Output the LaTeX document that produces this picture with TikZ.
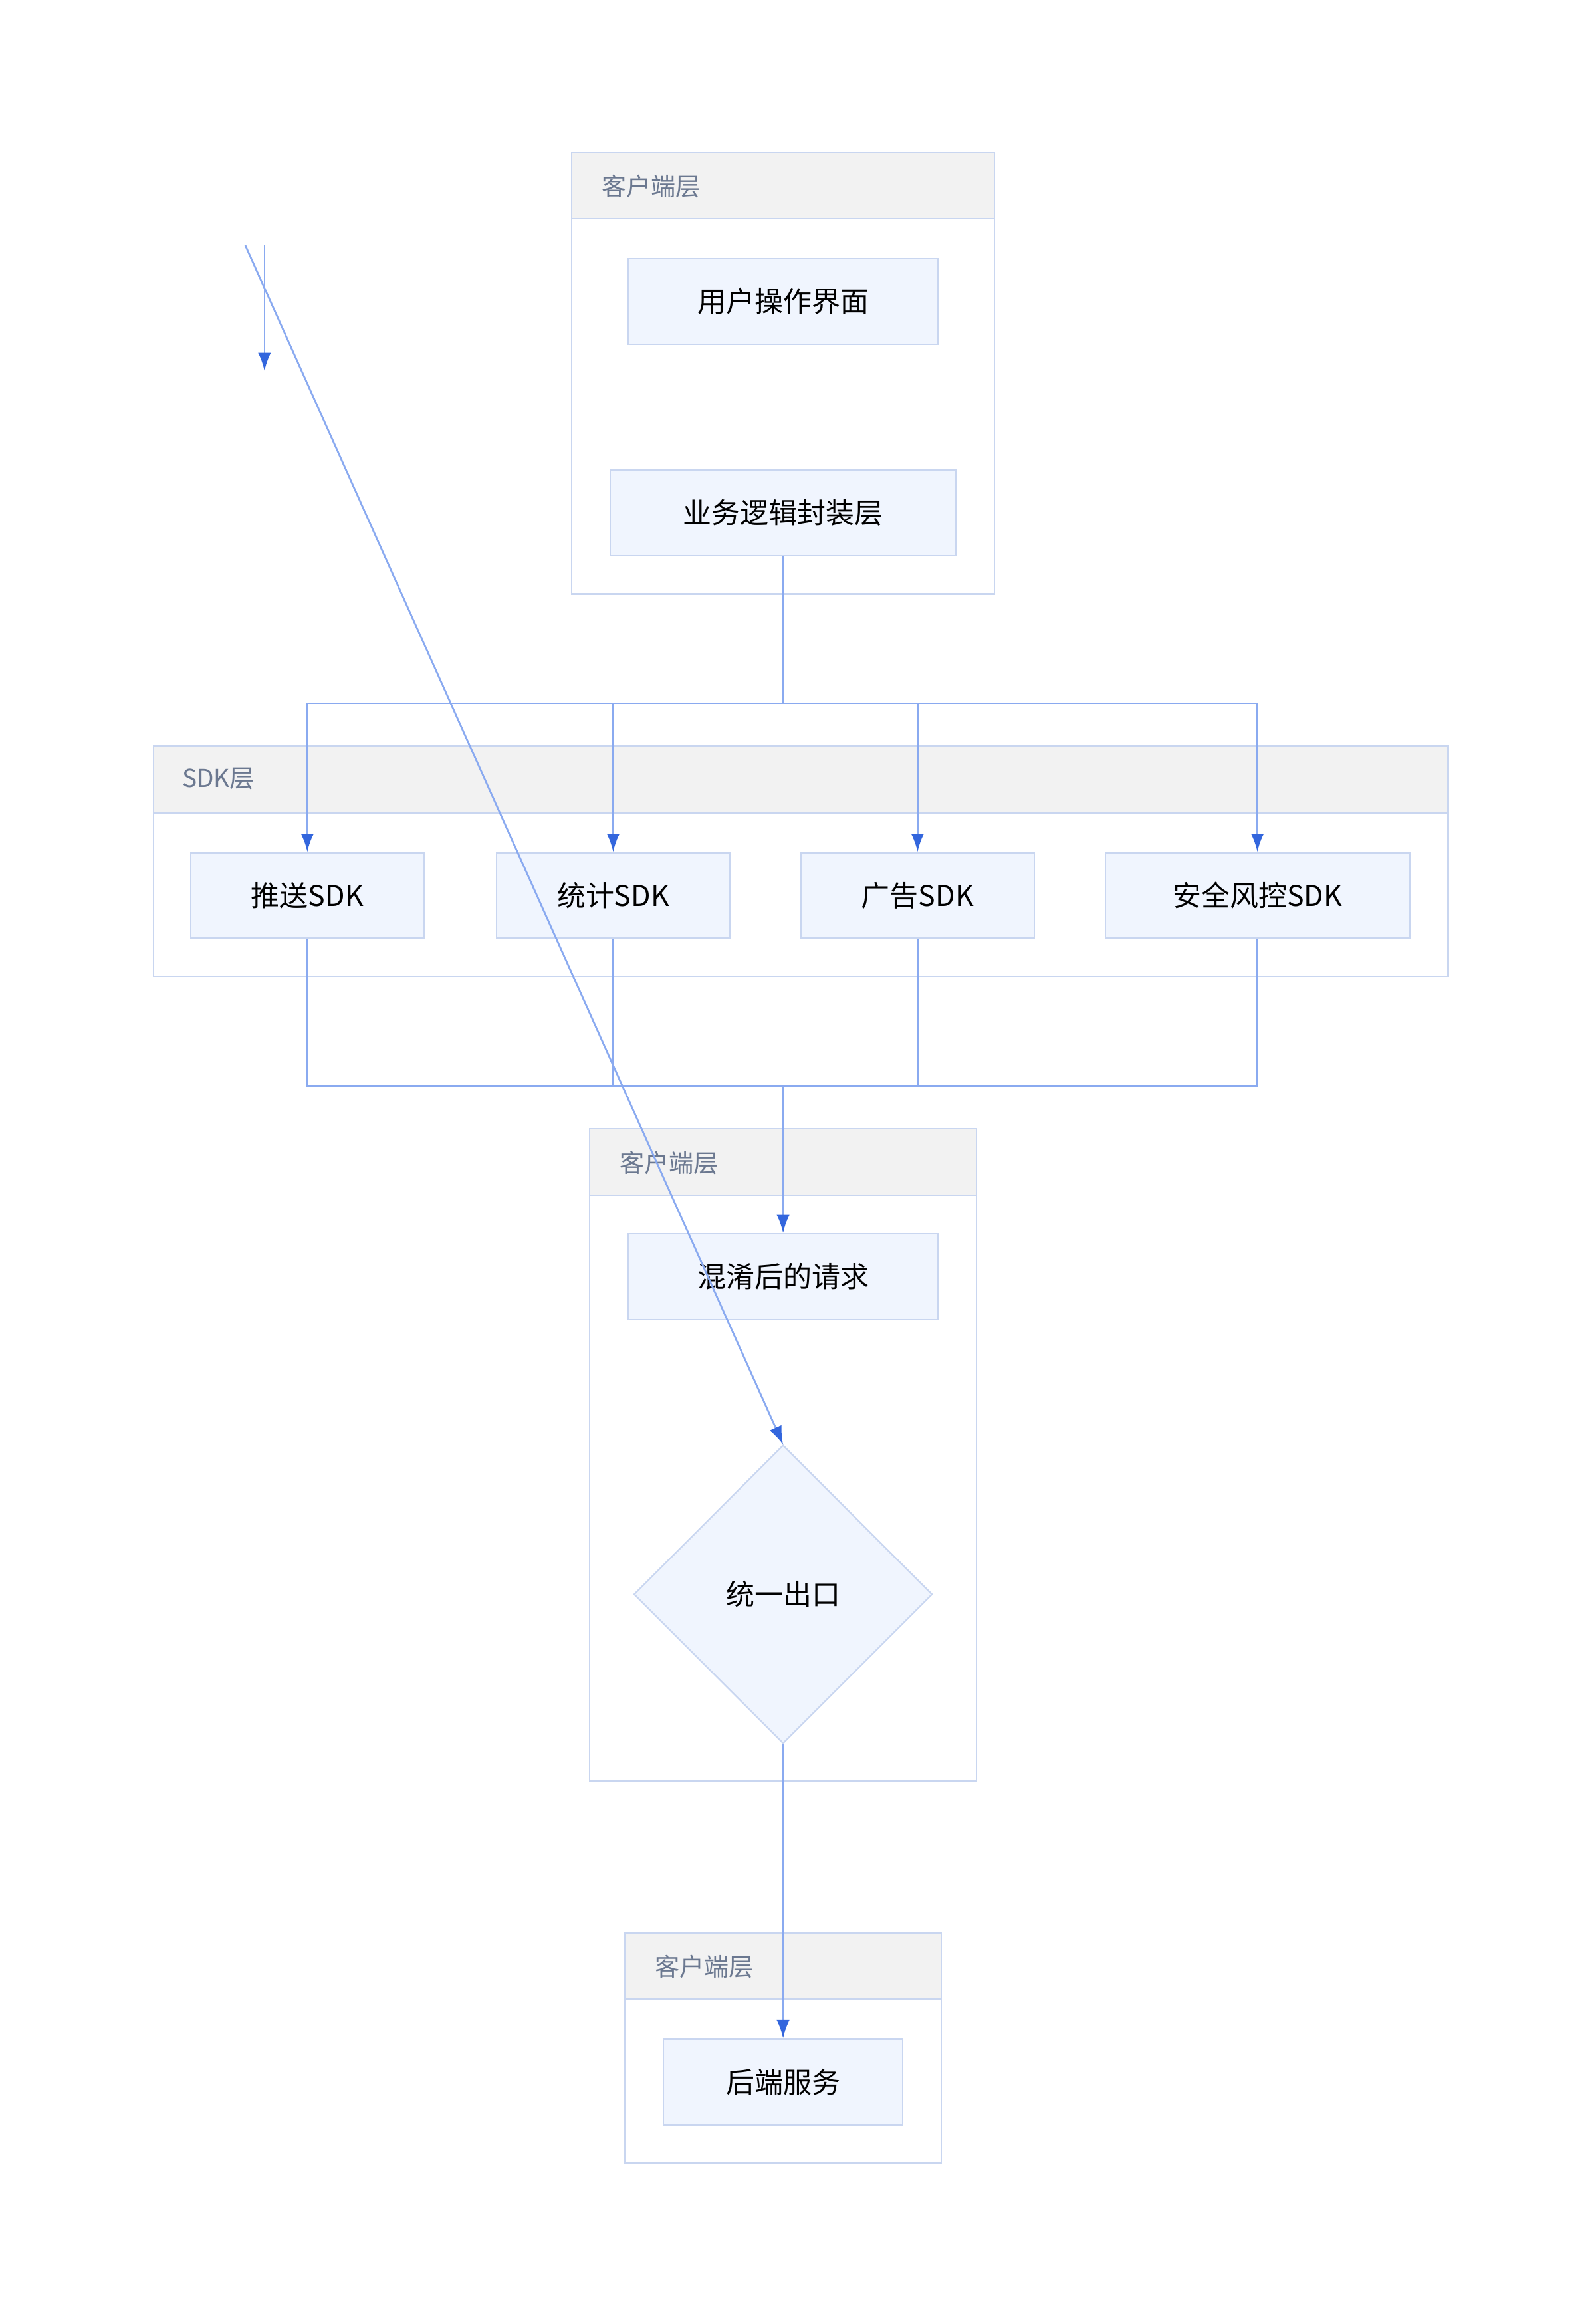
\documentclass[tikz,border=0pt]{standalone}
\usepackage{fontspec}
\setmainfont{Noto Sans CJK SC}
\usetikzlibrary{arrows.meta,shapes.geometric}
\definecolor{boxfill}{HTML}{F0F5FE}
\definecolor{boxline}{HTML}{C9D6F0}
\definecolor{edgeline}{HTML}{8AAAF0}
\definecolor{tipcol}{HTML}{3366DD}
\definecolor{headfill}{HTML}{F2F2F2}
\definecolor{headtext}{HTML}{6B7890}
\tikzset{
  box/.style={draw=boxline,fill=boxfill,line width=0.6pt,minimum height=1.16cm,inner sep=0pt,font=\fontsize{11}{13}\selectfont},
  exitnode/.style={diamond,aspect=1,draw=boxline,fill=boxfill,line width=0.6pt,minimum size=4.04cm,inner sep=0pt,font=\fontsize{11}{13}\selectfont},
  cluster/.style={draw=boxline,line width=0.6pt},
  header/.style={draw=boxline,fill=headfill,line width=0.6pt},
  clabel/.style={anchor=west,text=headtext,font=\fontsize{9.5}{11}\selectfont,inner sep=0pt},
  edge/.style={draw=edgeline,line width=0.7pt},
  arr/.style={edge,-{Latex[length=7pt,width=5pt,color=tipcol]}}
}
\begin{document}
\begin{tikzpicture}[x=0.02cm,y=-0.02cm]
\useasboundingbox (0,0) rectangle (1080,1562);

% clusters
\draw[cluster] (387,103) rectangle (673,402);
\draw[header] (387,103) rectangle (673,148);
\node[clabel] (lab1) at (407,126) {客户端层};

\draw[cluster] (104,505) rectangle (980,661);
\draw[header] (104,505) rectangle (980,550);
\node[clabel] (lab2) at (123,527) {SDK层};

\draw[cluster] (399,764) rectangle (661,1205);
\draw[header] (399,764) rectangle (661,809);
\node[clabel] (lab3) at (419,787) {客户端层};

\draw[cluster] (423,1308) rectangle (637,1464);
\draw[header] (423,1308) rectangle (637,1353);
\node[clabel] (lab4) at (443,1331) {客户端层};

% nodes
\node[box,minimum width=4.2cm] (ui) at (530,204) {用户操作界面};
\node[box,minimum width=4.68cm] (biz) at (530,347) {业务逻辑封装层};
\node[box,minimum width=3.16cm] (push) at (208,606) {推送SDK};
\node[box,minimum width=3.16cm] (stat) at (415,606) {统计SDK};
\node[box,minimum width=3.16cm] (ads) at (621,606) {广告SDK};
\node[box,minimum width=4.12cm] (risk) at (851,606) {安全风控SDK};
\node[box,minimum width=4.2cm] (req) at (530,864) {混淆后的请求};
\node[exitnode] (exit) at (530,1079) {统一出口};
\node[box,minimum width=3.24cm] (backend) at (530,1409) {后端服务};

\coordinate (split) at (530,476);
\coordinate (merge) at (530,735);
\coordinate (s1) at (166,166);
\coordinate (s2) at (179,166);
\coordinate (s3) at (179,251);

% edges
\draw[arr] (biz.south) -- (split) -| (push.north);
\draw[arr] (split) -| (stat.north);
\draw[arr] (split) -| (ads.north);
\draw[arr] (split) -| (risk.north);
\draw[edge] (push.south) |- (merge);
\draw[edge] (stat.south) |- (merge);
\draw[edge] (ads.south) |- (merge);
\draw[edge] (risk.south) |- (merge);
\draw[arr] (merge) -- (req.north);
\draw[arr] (s1) -- (exit.north);
\draw[arr] (s2) -- (s3);
\draw[arr] (exit.south) -- (backend.north);
\end{tikzpicture}
\end{document}
